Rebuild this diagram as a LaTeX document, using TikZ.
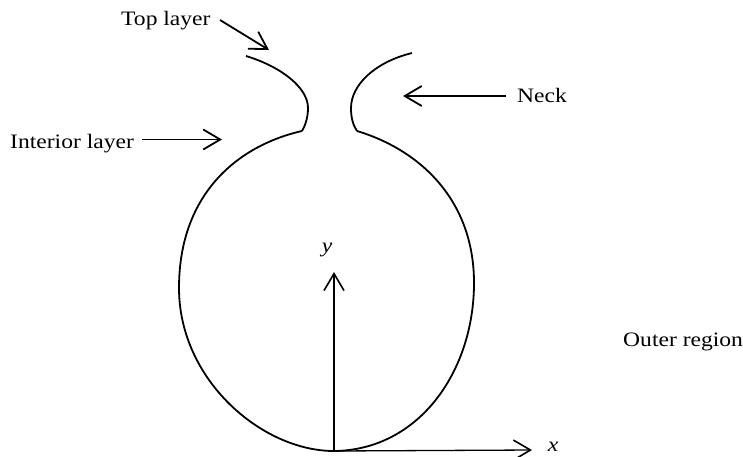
\documentclass[tikz,border=0pt]{standalone}
\usepackage{fontspec}
\setmainfont[FakeStretch=1.15]{Liberation Serif}
\usetikzlibrary{arrows.meta}
\begin{document}
\begin{tikzpicture}[x=1pt,y=-1pt,
  curve/.style={line width=1.8pt,line join=round},
  pointer/.style={line width=1.8pt,-{Straight Barb[length=17pt,width=20pt,line width=1.8pt]}},
  axis/.style={line width=1.3pt,-{Straight Barb[length=17pt,width=20pt,line width=1.6pt]}},
  lbl/.style={font=\fontsize{20.5}{24}\selectfont,inner sep=0pt,anchor=base west}]
\useasboundingbox (0,0) rectangle (743,456);
% labels
\node[lbl] (top) at (121,25) {Top layer};
\node[lbl] (int) at (10,148) {Interior layer};
\node[lbl] (neck) at (517,102) {Neck};
\node[lbl] (outer) at (623,346) {Outer region};
% key points
\coordinate (B) at (302,131);
\coordinate (C) at (357,131);
\coordinate (O) at (334,451);
% left neck
\draw[curve] (246,56) .. controls (282,67) and (308,88) .. (308,108)
  .. controls (308,118) and (305,126) .. (B);
% right neck
\draw[curve] (C) .. controls (353,125) and (351,118) .. (351,108)
  .. controls (351,85) and (375,62) .. (412,53);
% bulb
\draw[curve] (B) .. controls (240,145) and (179,192) .. (179,288)
  .. controls (179,380) and (262,451) .. (O)
  .. controls (420,450) and (474,370) .. (474,283)
  .. controls (474,200) and (420,150) .. (C);
% axes
\coordinate (ytip) at (334,272);
\coordinate (xtip) at (532,450);
\draw[axis] (O) -- (ytip);
\draw[axis] (O) -- (xtip);
\node[font=\fontsize{20.5}{24}\selectfont\itshape,inner sep=0pt] (ylab) at (327,250) {y};
\node[font=\fontsize{20.5}{24}\selectfont\itshape,inner sep=0pt] (xlab) at (553,447) {x};
% pointers
\coordinate (toptail) at (220,20);
\coordinate (toptip) at (269,50);
\draw[pointer] (toptail) -- (toptip);
\coordinate (inttail) at (142,139.5);
\coordinate (inttip) at (222,139.5);
\draw[pointer] (inttail) -- (inttip);
\coordinate (necktail) at (506,96);
\coordinate (necktip) at (403,96);
\draw[pointer] (necktail) -- (necktip);
\end{tikzpicture}
\end{document}
